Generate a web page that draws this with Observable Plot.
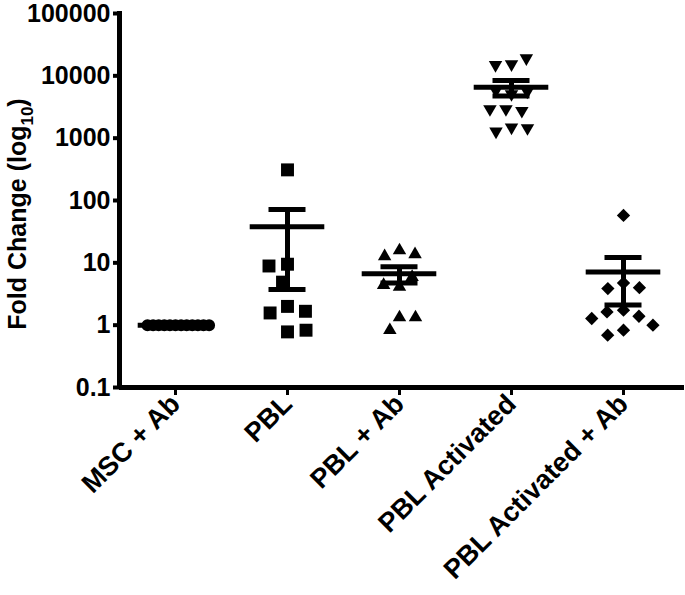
<!DOCTYPE html>
<html><head><meta charset="utf-8">
<script src="https://cdn.jsdelivr.net/npm/d3@7"></script>
<script src="https://cdn.jsdelivr.net/npm/@observablehq/plot@0.6"></script>
<style>
body{margin:0;background:#fff;}
svg{font-family:"Liberation Sans",Arial,sans-serif;}
</style></head><body><div id="chart"></div>
<script>
const categories = ["MSC + Ab", "PBL", "PBL + Ab", "PBL Activated", "PBL Activated + Ab"];
const mscAb = [1, 1, 1, 1, 1, 1, 1, 1, 1, 1, 1, 1];
const pbl = [310, 9.5, 8.9, 4.9, 2.0, 1.57, 1.67, 0.78, 0.83];
const pblAb = [15.8, 12.7, 13.7, 4.1, 4.4, 5.9, 1.33, 0.83, 1.33];
const pblAct = [15400, 15000, 19200, 5100, 5800, 5600, 2930, 2750, 2930, 1490, 1285, 1455];
const pblActAb = [57.5, 4.75, 3.87, 4.0, 1.74, 1.63, 1.39, 1.28, 1.0, 0.83, 0.69];
const yTicks = [0.1, 1, 10, 100, 1000, 10000, 100000];

const series = [mscAb, pbl, pblAb, pblAct, pblActAb];
const rows = categories.flatMap((c, i) => series[i].map(v => ({cat: c, value: v})));
const stats = categories.map((c, i) => {
  const v = series[i];
  const m = d3.mean(v);
  const sem = (d3.deviation(v) || 0) / Math.sqrt(v.length);
  return {cat: c, mean: m, lo: m - sem, hi: m + sem};
});

// r = collision radius used by dodge; extra stroke enlarges the drawn symbol
const markStyle = [
  {symbol: "circle", r: 2.8, stroke: 6.4, rotate: 0, padding: 0},
  {symbol: "square", r: 7.3, stroke: 0, rotate: 0, padding: 4},
  {symbol: "triangle", r: 5, stroke: 0, rotate: 0, padding: 6},
  {symbol: "triangle", r: 5, stroke: 0, rotate: 180, padding: 6},
  {symbol: "square", r: 5.3, stroke: 0, rotate: 45, padding: 6}
];

const dotMarks = categories.map((c, i) => {
  const s = markStyle[i];
  return Plot.dot(rows.filter(d => d.cat === c),
    Plot.dodgeX({anchor: "middle", padding: s.padding},
      {fx: "cat", y: "value", r: s.r, symbol: s.symbol, rotate: s.rotate, fill: "black",
       stroke: s.stroke ? "black" : "none", strokeWidth: s.stroke}));
});

const chart = Plot.plot({
  width: 685, height: 595,
  marginLeft: 118, marginRight: 5, marginTop: 13, marginBottom: 208,
  fx: {domain: categories, padding: 0},
  x: {domain: [-1, 1], axis: null},
  y: {type: "log", domain: [0.1, 100000], axis: null},
  marks: [
    ...dotMarks,
    Plot.ruleY(stats, {fx: "cat", y: "mean", strokeWidth: 5, insetLeft: 18.7, insetRight: 18.7}),
    Plot.ruleY(stats, {fx: "cat", y: "hi", strokeWidth: 5, insetLeft: 37.5, insetRight: 37.5}),
    Plot.ruleY(stats, {fx: "cat", y: "lo", strokeWidth: 5, insetLeft: 37.5, insetRight: 37.5}),
    Plot.ruleX(stats, {fx: "cat", x: () => 0, y1: "lo", y2: "hi", strokeWidth: 5}),
    Plot.ruleY([0.1], {strokeWidth: 5, insetRight: -5}),
    Plot.ruleX([{cat: categories[0]}], {fx: "cat", x: () => -1, strokeWidth: 5, insetTop: -2, insetBottom: -2}),
    Plot.axisY(yTicks, {tickSize: 6, tickPadding: 3, strokeWidth: 4, fontSize: 25, fontWeight: "bold", tickFormat: d => String(d), label: null}),
    Plot.axisFx({anchor: "bottom", tickRotate: -45, tickSize: 8, strokeWidth: 3, tickPadding: 4, fontSize: 27, fontWeight: "bold", label: null})
  ]
});

const svg = d3.select(chart);
const title = svg.append("text")
  .attr("transform", "translate(26,214) rotate(-90)")
  .attr("text-anchor", "middle")
  .attr("font-size", 25)
  .attr("font-weight", "bold")
  .attr("fill", "black");
title.append("tspan").text("Fold Change (log");
title.append("tspan").attr("dy", 7).attr("font-size", 17).text("10");
title.append("tspan").attr("dy", -7).text(")");

document.getElementById("chart").appendChild(chart);
</script></body></html>
